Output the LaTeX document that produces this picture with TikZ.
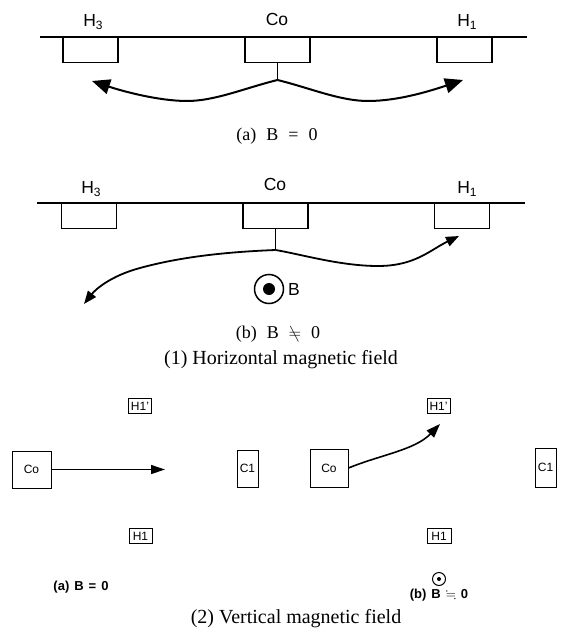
\documentclass[tikz,border=0pt]{standalone}
\usepackage{fontspec}
\usepackage{amssymb}
\usepackage{graphicx}
\setmainfont{Liberation Serif}
\setsansfont{Liberation Sans}
\setmonofont{Liberation Mono}
\usetikzlibrary{arrows.meta}
\newcommand{\hsub}[1]{\raisebox{-3.5pt}{\fontsize{12}{12}\selectfont #1}}
\begin{document}
\begin{tikzpicture}[x=1pt,y=-1pt,
  surf/.style={line width=1.1pt},
  site/.style={draw,line width=1.1pt,minimum width=55pt,minimum height=25pt,inner sep=0pt,anchor=north},
  cosite/.style={site,minimum width=65pt},
  lbl/.style={font=\sffamily\fontsize{17.5}{17.5}\selectfont,inner sep=0pt},
  hop/.style={line width=2pt,-{Triangle[length=18pt,width=15pt]}},
  hopb/.style={line width=1.8pt,-{Triangle[length=13pt,width=10pt]}},
  stem/.style={line width=1.1pt},
  sub/.style={font=\fontsize{18}{18}\selectfont,inner sep=0pt},
  captext/.style={font=\fontsize{20}{20}\selectfont,inner sep=0pt},
  atom/.style={draw,line width=1pt,inner sep=0pt,font=\sffamily\fontsize{12}{12}\selectfont},
  smalltext/.style={font=\sffamily\bfseries\fontsize{13}{13}\selectfont,inner sep=0pt},
]
\useasboundingbox (0,0) rectangle (564,631);

% ---------- (1a) horizontal field, B = 0 ----------
\coordinate (la1) at (40,37);
\coordinate (ra1) at (527,37);
\draw[surf] (la1) -- (ra1);
\node[site]   (h3a) at (90.5,37) {};
\node[cosite] (coa) at (277.5,37) {};
\node[site]   (h1a) at (464.5,37) {};
\node[lbl] at (93,22) {H\hsub{3}};
\node[lbl] at (277,19) {Co};
\node[lbl] at (467,22) {H\hsub{1}};
\coordinate (sa) at (277.5,80);
\draw[stem] (coa.south) -- (sa);
\coordinate (ta1) at (92,81);
\coordinate (ta2) at (463,80);
\draw[hop] (sa) .. controls (245,88) and (215,101) .. (187,101)
            .. controls (160,101) and (125,92) .. (ta1);
\draw[hop] (sa) .. controls (310,88) and (340,101) .. (368,101)
            .. controls (398,101) and (430,91) .. (ta2);
\node[sub] (capa) at (277,136) {(a)\hspace{10pt}B\hspace{10pt}=\hspace{10pt}0};

% ---------- (1b) horizontal field, B != 0 ----------
\coordinate (lb1) at (37,203);
\coordinate (rb1) at (525,203);
\draw[surf] (lb1) -- (rb1);
\node[site]   (h3b) at (89,203) {};
\node[cosite] (cob) at (275.5,203) {};
\node[site]   (h1b) at (462,203) {};
\node[lbl] at (91,189) {H\hsub{3}};
\node[lbl] at (275,184) {Co};
\node[lbl] at (467,189) {H\hsub{1}};
\coordinate (sb) at (275.5,250);
\draw[stem] (cob.south) -- (sb);
\coordinate (tb1) at (84,304);
\coordinate (tb2) at (459,236);
\draw[hopb] (sb) .. controls (225,252) and (180,257) .. (140,268)
             .. controls (110,276) and (95,290) .. (tb1);
\draw[hopb] (sb) .. controls (300,254) and (340,266) .. (378,266)
             .. controls (415,266) and (430,250) .. (tb2);
\node[draw,circle,line width=1.5pt,minimum size=29pt,inner sep=0pt] (fld) at (269,289) {};
\fill (fld.center) circle (6pt);
\node[lbl,anchor=west] at (288,289) {B};
\node[sub] (capb) at (278,334) {(b)\hspace{10pt}B\hspace{10pt}\reflectbox{$\neq$}\hspace{10pt}0};
\node[captext] (cap1) at (281,360) {(1) Horizontal magnetic field};

% ---------- (2a) vertical field, B = 0 ----------
\node[atom,minimum width=39pt,minimum height=37pt] (coc) at (31.5,469.5) {Co};
\node[atom,minimum width=23pt,minimum height=15pt] (h1pc) at (140,406) {H1'};
\node[atom,minimum width=21pt,minimum height=37pt] (c1c) at (247.5,468.5) {C1};
\node[atom,minimum width=23pt,minimum height=15pt] (h1c) at (140.5,536) {H1};
\coordinate (tc) at (165,469.5);
\draw[line width=1.3pt,-{Triangle[length=14pt,width=9pt]}] (coc.east) -- (tc);
\node[smalltext] at (81,587) {(a)\hspace{5pt}B\hspace{5pt}=\hspace{5pt}0};

% ---------- (2b) vertical field, B != 0 ----------
\node[atom,minimum width=38pt,minimum height=38pt] (cod) at (329,468) {Co};
\node[atom,minimum width=23pt,minimum height=15pt] (h1pd) at (438.5,406) {H1'};
\node[atom,minimum width=21pt,minimum height=39pt] (c1d) at (545.5,467.5) {C1};
\node[atom,minimum width=24pt,minimum height=15pt] (h1d) at (439,536) {H1};
\coordinate (td) at (440,424);
\draw[line width=1.6pt,-{Triangle[length=14pt,width=10pt]}] (cod.east) .. controls (380,455) and (415,450) .. (td);
\node[draw,circle,line width=1pt,minimum size=13pt,inner sep=0pt] (fld2) at (439,579) {};
\fill (fld2.center) circle (2pt);
\node[smalltext] at (439,595) {(b)\hspace{5pt}B\hspace{5pt}$\fallingdotseq$\hspace{5pt}0};
\node[captext] (cap2) at (296,619) {(2) Vertical magnetic field};
\end{tikzpicture}
\end{document}
